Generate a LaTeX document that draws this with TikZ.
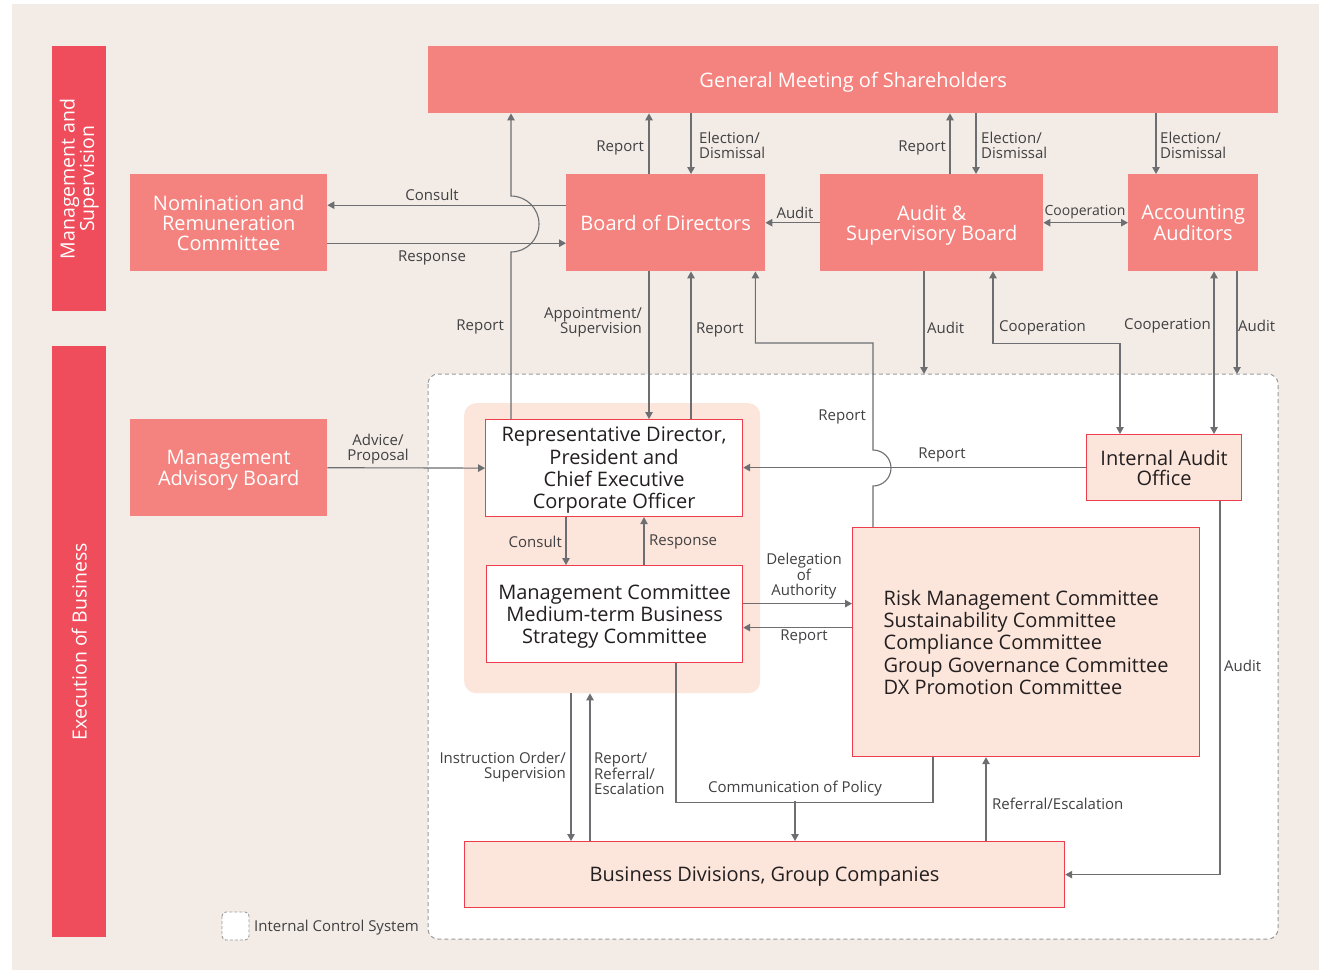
\documentclass[tikz,border=0pt]{standalone}
\usepackage{fontspec}
\setmainfont{Open Sans}
\usetikzlibrary{arrows.meta,positioning,calc}

\definecolor{pagebg}{HTML}{F3ECE6}
\definecolor{bandred}{HTML}{EF4D5C}
\definecolor{salmon}{HTML}{F4837F}
\definecolor{palerose}{HTML}{FCE5DA}
\definecolor{boxred}{HTML}{EE3D4C}
\definecolor{linegray}{HTML}{6D6E71}
\definecolor{framegray}{HTML}{9A9A9C}
\definecolor{txtgray}{HTML}{414042}
\definecolor{txtdark}{HTML}{231F20}

\tikzset{
  box/.style={anchor=north west, inner sep=0pt, align=center, text depth=-3pt, font=\fontsize{20}{19.8}\selectfont},
  topbox/.style={box, fill=salmon, text=white},
  execbox/.style={box, draw=boxred, line width=1.2pt, fill=white, text=txtdark, font=\fontsize{20}{22.3}\selectfont},
  pinkbox/.style={execbox, fill=palerose},
  band/.style={anchor=north west, fill=bandred, inner sep=0pt, minimum width=54pt},
  bandtext/.style={rotate=90, text=white, align=center, inner sep=0pt, font=\fontsize{19.5}{19.5}\selectfont},
  lbl/.style={text=txtgray, inner sep=0pt, font=\fontsize{15}{15}\selectfont},
  tip/.tip={Triangle[length=7pt,width=7.5pt]},
  conn/.style={draw=linegray, line width=1.1pt},
  arr/.style={conn, -tip},
  biarr/.style={conn, tip-tip},
}

\begin{document}
\begin{tikzpicture}[x=1pt, y=-1pt]
 % page and background
 \fill[white] (0,0) rectangle (1319,974);
 \useasboundingbox (0,0) rectangle (1319,974);
 \fill[pagebg] (12,4) rectangle (1319,970);

 % side bands
 \node[band, minimum height=265pt] (mgmtband) at (52,46) {};
 \node[bandtext] (mgmttxt) at (mgmtband.center) {Management and\\Supervision};
 \node[band, minimum height=591pt] (execband) at (52,346) {};
 \node[bandtext] (exectxt) at (execband.center) {Execution of Business};

 % internal control system frame and executive group
 \draw[framegray, fill=white, line width=1pt, dash pattern=on 4pt off 3pt, rounded corners=10pt] (428,374) rectangle (1278,939);
 \coordinate (icsnorth) at (428,374);
 \node[anchor=north west, fill=palerose, rounded corners=12pt, inner sep=0pt, minimum width=296pt, minimum height=290pt] (execgrp) at (464,403) {};

 % legend
 \draw[framegray, fill=white, line width=0.9pt, dash pattern=on 3pt off 2pt, rounded corners=4pt] (222,912) rectangle (249,940);
 \node[lbl, anchor=west] (legend) at (254,928) {Internal Control System};

 % management and supervision
 \node[topbox, minimum width=850pt, minimum height=67pt] (gms) at (428,46) {General Meeting of Shareholders};
 \node[topbox, minimum width=197pt, minimum height=97pt] (nrc) at (130,174) {Nomination and\\Remuneration\\Committee};
 \node[topbox, minimum width=199pt, minimum height=97pt] (bod) at (566,174) {Board of Directors};
 \node[topbox, minimum width=223pt, minimum height=97pt] (asb) at (820,174) {Audit \&\\Supervisory Board};
 \node[topbox, minimum width=130pt, minimum height=97pt] (aa) at (1128,174) {Accounting\\Auditors};
 \node[topbox, minimum width=197pt, minimum height=97pt] (mab) at (130,419) {Management\\Advisory Board};

 % execution of business
 \node[execbox, minimum width=257pt, minimum height=97pt] (rep) at (485,419) {Representative Director,\\President and\\Chief Executive\\Corporate Officer};
 \node[execbox, minimum width=256pt, minimum height=97pt] (mc) at (486,565) {Management Committee\\Medium-term Business\\Strategy Committee};
 \node[pinkbox, align=left, minimum width=347pt, minimum height=229pt] (risk) at (852,527) {Risk Management Committee\\Sustainability Committee\\Compliance Committee\\Group Governance Committee\\DX Promotion Committee};
 \node[pinkbox, font=\fontsize{20}{20}\selectfont, minimum width=155pt, minimum height=66pt] (iao) at (1086,434) {Internal Audit\\Office};
 \node[pinkbox, minimum width=600pt, minimum height=66pt] (bdg) at (464,841) {Business Divisions, Group Companies};

 % connectors around the board
 \draw[arr] ([xshift=26pt]rep.north west) -- ++(0,-167) arc[start angle=-90, end angle=90, radius=28pt] -- ([xshift=26pt]rep.north west |- gms.south);
 \draw[arr] ([yshift=17.5pt]bod.west) -- ([yshift=17.5pt]bod.west -| nrc.east);
 \draw[arr] ([yshift=-20.5pt]nrc.east) -- ([yshift=-20.5pt]nrc.east -| bod.west);
 \draw[arr] ([xshift=83pt]bod.north west) -- ([xshift=83pt]bod.north west |- gms.south);
 \draw[arr] ([xshift=125pt]bod.north west |- gms.south) -- ([xshift=125pt]bod.north west);
 \draw[arr] (asb.west) -- (bod.east);
 \draw[arr] ([xshift=130pt]asb.north west) -- ([xshift=130pt]asb.north west |- gms.south);
 \draw[arr] ([xshift=156pt]asb.north west |- gms.south) -- ([xshift=156pt]asb.north west);
 \draw[arr] ([xshift=28pt]aa.north west |- gms.south) -- ([xshift=28pt]aa.north west);
 \draw[biarr] (asb.east) -- (aa.west);

 % connectors from the board down
 \draw[arr] ([xshift=83pt]bod.south west) -- ([xshift=83pt]bod.south west |- rep.north);
 \draw[arr] ([xshift=125pt]bod.south west |- rep.north) -- ([xshift=125pt]bod.south west);
 \draw[arr] ([xshift=21pt]risk.north west) -- ++(0,-41) arc[start angle=-90, end angle=90, radius=18pt] -- ++(0,-107) -| ([xshift=-10pt]bod.south east);
 \draw[arr] ([xshift=104pt]asb.south west) -- ([xshift=104pt]asb.south west |- icsnorth);
 \draw[biarr] ([xshift=173pt]asb.south west) -- ++(0,72) -| ([xshift=34pt]iao.north west);
 \draw[biarr] ([xshift=86pt]aa.south west) -- ([xshift=86pt]aa.south west |- iao.north);
 \draw[arr] ([xshift=109pt]aa.south west) -- ([xshift=109pt]aa.south west |- icsnorth);

 % connectors inside execution
 \draw[arr] (mab.east) -- (rep.west);
 \draw[arr] (iao.west) -- (iao.west -| rep.east);
 \draw[arr] ([xshift=81pt]rep.south west) -- ([xshift=81pt]rep.south west |- mc.north);
 \draw[arr] ([xshift=158pt]mc.north west) -- ([xshift=158pt]mc.north west |- rep.south);
 \draw[arr] ([yshift=10.5pt]mc.east) -- ([yshift=10.5pt]mc.east -| risk.west);
 \draw[arr] ([yshift=-13.5pt]mc.east -| risk.west) -- ([yshift=-13.5pt]mc.east);
 \draw[arr] ([xshift=107pt]execgrp.south west) -- ([xshift=107pt]execgrp.south west |- bdg.north);
 \draw[arr] ([xshift=126pt]execgrp.south west |- bdg.north) -- ([xshift=126pt]execgrp.south west);
 \draw[conn] ([xshift=190pt]mc.south west) -- ++(0,139) -| ([xshift=81pt]risk.south west);
 \draw[arr] ([xshift=331pt,yshift=40pt]bdg.north west) -- ([xshift=331pt]bdg.north west);
 \draw[arr] ([xshift=522pt]bdg.north west) -- ([xshift=522pt]bdg.north west |- risk.south);
 \draw[arr] ([xshift=134pt]iao.south west) |- (bdg.east);

 % connector labels
 \node[lbl, anchor=east] (lreptop) at (504,327) {Report};
 \node[lbl, anchor=south] (lconsult) at (432,201) {Consult};
 \node[lbl, anchor=north] (lresponse) at (432,251) {Response};
 \node[lbl, anchor=east] (lbodrep) at (644,148) {Report};
 \node[lbl, anchor=west, align=left] (lbodel) at (699,145) {Election/\\Dismissal};
 \node[lbl, anchor=south] (laudit) at (795,219) {Audit};
 \node[lbl, anchor=east] (lasbrep) at (946,148) {Report};
 \node[lbl, anchor=west, align=left] (lasbel) at (981,145) {Election/\\Dismissal};
 \node[lbl, anchor=west, align=left] (laael) at (1160,145) {Election/\\Dismissal};
 \node[lbl, anchor=south, font=\fontsize{14}{15}\selectfont] (lcoop) at (1085,219) {Cooperation};
 \node[lbl, anchor=east, align=right] (lappoint) at (642,322) {Appointment/\\Supervision};
 \node[lbl, anchor=west] (lrepbod) at (696,330) {Report};
 \node[lbl, anchor=east] (lriskrep) at (866,417) {Report};
 \node[lbl, anchor=west] (lasbaudit) at (927,328) {Audit};
 \node[lbl, anchor=west] (lasbcoop) at (999,328) {Cooperation};
 \node[lbl, anchor=east] (laacoop) at (1211,326) {Cooperation};
 \node[lbl, anchor=west] (laaaudit) at (1238,326) {Audit};
 \node[lbl, anchor=south, align=center] (ladvice) at (378,464) {Advice/\\Proposal};
 \node[lbl, anchor=south] (liaorep) at (942,462) {Report};
 \node[lbl, anchor=east] (lmcconsult) at (562,542) {Consult};
 \node[lbl, anchor=west] (lmcresp) at (649,542) {Response};
 \node[lbl, anchor=south, align=center, font=\fontsize{15}{14.5}\selectfont] (ldeleg) at (804,599) {Delegation\\of\\Authority};
 \node[lbl, anchor=north] (lriskmc) at (804,630) {Report};
 \node[lbl, anchor=east, align=right] (linstr) at (566,767) {Instruction Order/\\Supervision};
 \node[lbl, anchor=west, align=left] (lreferral) at (594,774) {Report/\\Referral/\\Escalation};
 \node[lbl, anchor=south] (lpolicy) at (795,796) {Communication of Policy};
 \node[lbl, anchor=west] (lescal) at (992,804) {Referral/Escalation};
 \node[lbl, anchor=west] (liaoaudit) at (1224,666) {Audit};
\end{tikzpicture}
\end{document}
